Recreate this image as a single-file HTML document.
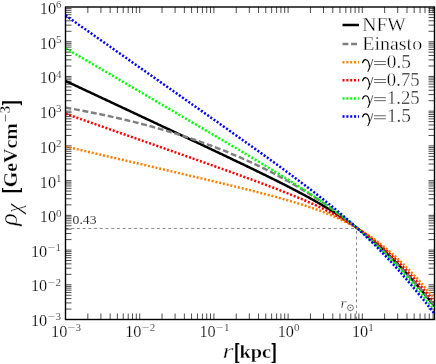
<!DOCTYPE html>
<html><head><meta charset="utf-8"><title>Dark matter density profiles</title>
<style>html,body{margin:0;padding:0;background:#fff;}body{width:436px;height:364px;overflow:hidden;font-family:"Liberation Serif",serif;}svg{display:block;will-change:transform;}</style>
</head><body>
<svg width="436" height="364" viewBox="0 0 436 364">
<rect width="436" height="364" fill="#fff"/>
<defs><clipPath id="c"><rect x="65.50" y="7.00" width="369.00" height="312.50"/></clipPath></defs>
<path d="M87.84,319.50v-6.00M87.84,7.00v6.00M100.90,319.50v-6.00M100.90,7.00v6.00M110.17,319.50v-6.00M110.17,7.00v6.00M117.36,319.50v-6.00M117.36,7.00v6.00M123.24,319.50v-6.00M123.24,7.00v6.00M128.21,319.50v-6.00M128.21,7.00v6.00M132.51,319.50v-6.00M132.51,7.00v6.00M136.30,319.50v-6.00M136.30,7.00v6.00M139.70,319.50v-6.00M139.70,7.00v6.00M162.04,319.50v-6.00M162.04,7.00v6.00M175.10,319.50v-6.00M175.10,7.00v6.00M184.37,319.50v-6.00M184.37,7.00v6.00M191.56,319.50v-6.00M191.56,7.00v6.00M197.44,319.50v-6.00M197.44,7.00v6.00M202.41,319.50v-6.00M202.41,7.00v6.00M206.71,319.50v-6.00M206.71,7.00v6.00M210.50,319.50v-6.00M210.50,7.00v6.00M213.90,319.50v-6.00M213.90,7.00v6.00M236.24,319.50v-6.00M236.24,7.00v6.00M249.30,319.50v-6.00M249.30,7.00v6.00M258.57,319.50v-6.00M258.57,7.00v6.00M265.76,319.50v-6.00M265.76,7.00v6.00M271.64,319.50v-6.00M271.64,7.00v6.00M276.61,319.50v-6.00M276.61,7.00v6.00M280.91,319.50v-6.00M280.91,7.00v6.00M284.70,319.50v-6.00M284.70,7.00v6.00M288.10,319.50v-6.00M288.10,7.00v6.00M310.44,319.50v-6.00M310.44,7.00v6.00M323.50,319.50v-6.00M323.50,7.00v6.00M332.77,319.50v-6.00M332.77,7.00v6.00M339.96,319.50v-6.00M339.96,7.00v6.00M345.84,319.50v-6.00M345.84,7.00v6.00M350.81,319.50v-6.00M350.81,7.00v6.00M355.11,319.50v-6.00M355.11,7.00v6.00M358.90,319.50v-6.00M358.90,7.00v6.00M362.30,319.50v-6.00M362.30,7.00v6.00M384.64,319.50v-6.00M384.64,7.00v6.00M397.70,319.50v-6.00M397.70,7.00v6.00M406.97,319.50v-6.00M406.97,7.00v6.00M414.16,319.50v-6.00M414.16,7.00v6.00M420.04,319.50v-6.00M420.04,7.00v6.00M425.01,319.50v-6.00M425.01,7.00v6.00M429.31,319.50v-6.00M429.31,7.00v6.00M433.10,319.50v-6.00M433.10,7.00v6.00M65.50,309.05h6.00M434.50,309.05h-6.00M65.50,302.93h6.00M434.50,302.93h-6.00M65.50,298.60h6.00M434.50,298.60h-6.00M65.50,295.23h6.00M434.50,295.23h-6.00M65.50,292.48h6.00M434.50,292.48h-6.00M65.50,290.16h6.00M434.50,290.16h-6.00M65.50,288.14h6.00M434.50,288.14h-6.00M65.50,286.37h6.00M434.50,286.37h-6.00M65.50,284.78h6.00M434.50,284.78h-6.00M65.50,274.33h6.00M434.50,274.33h-6.00M65.50,268.21h6.00M434.50,268.21h-6.00M65.50,263.87h6.00M434.50,263.87h-6.00M65.50,260.51h6.00M434.50,260.51h-6.00M65.50,257.76h6.00M434.50,257.76h-6.00M65.50,255.43h6.00M434.50,255.43h-6.00M65.50,253.42h6.00M434.50,253.42h-6.00M65.50,251.64h6.00M434.50,251.64h-6.00M65.50,250.06h6.00M434.50,250.06h-6.00M65.50,239.60h6.00M434.50,239.60h-6.00M65.50,233.49h6.00M434.50,233.49h-6.00M65.50,229.15h6.00M434.50,229.15h-6.00M65.50,225.79h6.00M434.50,225.79h-6.00M65.50,223.04h6.00M434.50,223.04h-6.00M65.50,220.71h6.00M434.50,220.71h-6.00M65.50,218.70h6.00M434.50,218.70h-6.00M65.50,216.92h6.00M434.50,216.92h-6.00M65.50,215.33h6.00M434.50,215.33h-6.00M65.50,204.88h6.00M434.50,204.88h-6.00M65.50,198.77h6.00M434.50,198.77h-6.00M65.50,194.43h6.00M434.50,194.43h-6.00M65.50,191.06h6.00M434.50,191.06h-6.00M65.50,188.31h6.00M434.50,188.31h-6.00M65.50,185.99h6.00M434.50,185.99h-6.00M65.50,183.98h6.00M434.50,183.98h-6.00M65.50,182.20h6.00M434.50,182.20h-6.00M65.50,180.61h6.00M434.50,180.61h-6.00M65.50,170.16h6.00M434.50,170.16h-6.00M65.50,164.04h6.00M434.50,164.04h-6.00M65.50,159.71h6.00M434.50,159.71h-6.00M65.50,156.34h6.00M434.50,156.34h-6.00M65.50,153.59h6.00M434.50,153.59h-6.00M65.50,151.27h6.00M434.50,151.27h-6.00M65.50,149.25h6.00M434.50,149.25h-6.00M65.50,147.48h6.00M434.50,147.48h-6.00M65.50,145.89h6.00M434.50,145.89h-6.00M65.50,135.44h6.00M434.50,135.44h-6.00M65.50,129.32h6.00M434.50,129.32h-6.00M65.50,124.98h6.00M434.50,124.98h-6.00M65.50,121.62h6.00M434.50,121.62h-6.00M65.50,118.87h6.00M434.50,118.87h-6.00M65.50,116.55h6.00M434.50,116.55h-6.00M65.50,114.53h6.00M434.50,114.53h-6.00M65.50,112.76h6.00M434.50,112.76h-6.00M65.50,111.17h6.00M434.50,111.17h-6.00M65.50,100.71h6.00M434.50,100.71h-6.00M65.50,94.60h6.00M434.50,94.60h-6.00M65.50,90.26h6.00M434.50,90.26h-6.00M65.50,86.90h6.00M434.50,86.90h-6.00M65.50,84.15h6.00M434.50,84.15h-6.00M65.50,81.82h6.00M434.50,81.82h-6.00M65.50,79.81h6.00M434.50,79.81h-6.00M65.50,78.03h6.00M434.50,78.03h-6.00M65.50,76.44h6.00M434.50,76.44h-6.00M65.50,65.99h6.00M434.50,65.99h-6.00M65.50,59.88h6.00M434.50,59.88h-6.00M65.50,55.54h6.00M434.50,55.54h-6.00M65.50,52.17h6.00M434.50,52.17h-6.00M65.50,49.43h6.00M434.50,49.43h-6.00M65.50,47.10h6.00M434.50,47.10h-6.00M65.50,45.09h6.00M434.50,45.09h-6.00M65.50,43.31h6.00M434.50,43.31h-6.00M65.50,41.72h6.00M434.50,41.72h-6.00M65.50,31.27h6.00M434.50,31.27h-6.00M65.50,25.16h6.00M434.50,25.16h-6.00M65.50,20.82h6.00M434.50,20.82h-6.00M65.50,17.45h6.00M434.50,17.45h-6.00M65.50,14.70h6.00M434.50,14.70h-6.00M65.50,12.38h6.00M434.50,12.38h-6.00M65.50,10.36h6.00M434.50,10.36h-6.00M65.50,8.59h6.00M434.50,8.59h-6.00" stroke="#000" stroke-width="0.7" fill="none"/>
<path d="M65.50,228.50H356.50" stroke="#000" stroke-width="0.45" stroke-dasharray="3 2.71" fill="none"/>
<path d="M356.50,319.50V228.50" stroke="#000" stroke-width="0.45" stroke-dasharray="3 2.71" fill="none"/>
<g clip-path="url(#c)" fill="none">
<path d="M65.50,80.94 L66.73,81.52 L67.97,82.10 L69.20,82.67 L70.44,83.25 L71.67,83.83 L72.90,84.41 L74.14,84.98 L75.37,85.56 L76.61,86.14 L77.84,86.72 L79.08,87.30 L80.31,87.87 L81.54,88.45 L82.78,89.03 L84.01,89.61 L85.25,90.18 L86.48,90.76 L87.71,91.34 L88.95,91.92 L90.18,92.49 L91.42,93.07 L92.65,93.65 L93.88,94.23 L95.12,94.80 L96.35,95.38 L97.59,95.96 L98.82,96.54 L100.06,97.12 L101.29,97.69 L102.52,98.27 L103.76,98.85 L104.99,99.43 L106.23,100.00 L107.46,100.58 L108.69,101.16 L109.93,101.74 L111.16,102.31 L112.40,102.89 L113.63,103.47 L114.86,104.05 L116.10,104.63 L117.33,105.20 L118.57,105.78 L119.80,106.36 L121.04,106.94 L122.27,107.51 L123.50,108.09 L124.74,108.67 L125.97,109.25 L127.21,109.83 L128.44,110.40 L129.67,110.98 L130.91,111.56 L132.14,112.14 L133.38,112.72 L134.61,113.29 L135.84,113.87 L137.08,114.45 L138.31,115.03 L139.55,115.61 L140.78,116.18 L142.02,116.76 L143.25,117.34 L144.48,117.92 L145.72,118.50 L146.95,119.07 L148.19,119.65 L149.42,120.23 L150.65,120.81 L151.89,121.39 L153.12,121.97 L154.36,122.54 L155.59,123.12 L156.82,123.70 L158.06,124.28 L159.29,124.86 L160.53,125.44 L161.76,126.02 L162.99,126.59 L164.23,127.17 L165.46,127.75 L166.70,128.33 L167.93,128.91 L169.17,129.49 L170.40,130.07 L171.63,130.65 L172.87,131.23 L174.10,131.80 L175.34,132.38 L176.57,132.96 L177.80,133.54 L179.04,134.12 L180.27,134.70 L181.51,135.28 L182.74,135.86 L183.97,136.44 L185.21,137.02 L186.44,137.60 L187.68,138.18 L188.91,138.76 L190.15,139.34 L191.38,139.92 L192.61,140.50 L193.85,141.08 L195.08,141.66 L196.32,142.24 L197.55,142.82 L198.78,143.41 L200.02,143.99 L201.25,144.57 L202.49,145.15 L203.72,145.73 L204.95,146.31 L206.19,146.89 L207.42,147.48 L208.66,148.06 L209.89,148.64 L211.13,149.22 L212.36,149.81 L213.59,150.39 L214.83,150.97 L216.06,151.56 L217.30,152.14 L218.53,152.73 L219.76,153.31 L221.00,153.89 L222.23,154.48 L223.47,155.06 L224.70,155.65 L225.93,156.23 L227.17,156.82 L228.40,157.41 L229.64,157.99 L230.87,158.58 L232.11,159.17 L233.34,159.76 L234.57,160.34 L235.81,160.93 L237.04,161.52 L238.28,162.11 L239.51,162.70 L240.74,163.29 L241.98,163.88 L243.21,164.47 L244.45,165.07 L245.68,165.66 L246.91,166.25 L248.15,166.85 L249.38,167.44 L250.62,168.03 L251.85,168.63 L253.09,169.23 L254.32,169.82 L255.55,170.42 L256.79,171.02 L258.02,171.62 L259.26,172.22 L260.49,172.82 L261.72,173.42 L262.96,174.03 L264.19,174.63 L265.43,175.23 L266.66,175.84 L267.89,176.45 L269.13,177.05 L270.36,177.66 L271.60,178.27 L272.83,178.89 L274.07,179.50 L275.30,180.11 L276.53,180.73 L277.77,181.35 L279.00,181.97 L280.24,182.59 L281.47,183.21 L282.70,183.83 L283.94,184.46 L285.17,185.08 L286.41,185.71 L287.64,186.34 L288.87,186.98 L290.11,187.61 L291.34,188.25 L292.58,188.89 L293.81,189.53 L295.05,190.17 L296.28,190.82 L297.51,191.47 L298.75,192.12 L299.98,192.77 L301.22,193.43 L302.45,194.09 L303.68,194.75 L304.92,195.42 L306.15,196.09 L307.39,196.76 L308.62,197.43 L309.85,198.11 L311.09,198.80 L312.32,199.48 L313.56,200.17 L314.79,200.87 L316.03,201.56 L317.26,202.27 L318.49,202.97 L319.73,203.68 L320.96,204.40 L322.20,205.12 L323.43,205.85 L324.66,206.58 L325.90,207.31 L327.13,208.05 L328.37,208.80 L329.60,209.55 L330.83,210.31 L332.07,211.07 L333.30,211.84 L334.54,212.62 L335.77,213.40 L337.01,214.19 L338.24,214.98 L339.47,215.79 L340.71,216.60 L341.94,217.41 L343.18,218.24 L344.41,219.07 L345.64,219.91 L346.88,220.75 L348.11,221.61 L349.35,222.47 L350.58,223.34 L351.81,224.22 L353.05,225.11 L354.28,226.01 L355.52,226.91 L356.75,227.83 L357.98,228.75 L359.22,229.69 L360.45,230.63 L361.69,231.58 L362.92,232.54 L364.16,233.52 L365.39,234.50 L366.62,235.49 L367.86,236.49 L369.09,237.51 L370.33,238.53 L371.56,239.56 L372.79,240.61 L374.03,241.67 L375.26,242.73 L376.50,243.81 L377.73,244.90 L378.96,246.00 L380.20,247.10 L381.43,248.23 L382.67,249.36 L383.90,250.50 L385.14,251.65 L386.37,252.82 L387.60,254.00 L388.84,255.18 L390.07,256.38 L391.31,257.59 L392.54,258.81 L393.77,260.04 L395.01,261.28 L396.24,262.54 L397.48,263.80 L398.71,265.07 L399.94,266.36 L401.18,267.65 L402.41,268.96 L403.65,270.27 L404.88,271.60 L406.12,272.93 L407.35,274.28 L408.58,275.63 L409.82,277.00 L411.05,278.37 L412.29,279.76 L413.52,281.15 L414.75,282.55 L415.99,283.97 L417.22,285.39 L418.46,286.81 L419.69,288.25 L420.92,289.70 L422.16,291.15 L423.39,292.61 L424.63,294.08 L425.86,295.56 L427.10,297.04 L428.33,298.54 L429.56,300.04 L430.80,301.54 L432.03,303.06 L433.27,304.58 L434.50,306.10" stroke="#000000" stroke-width="2.50"/>
<path d="M65.50,107.62 L66.73,107.83 L67.97,108.05 L69.20,108.26 L70.44,108.48 L71.67,108.71 L72.90,108.93 L74.14,109.15 L75.37,109.38 L76.61,109.60 L77.84,109.83 L79.08,110.06 L80.31,110.29 L81.54,110.52 L82.78,110.76 L84.01,110.99 L85.25,111.23 L86.48,111.47 L87.71,111.71 L88.95,111.95 L90.18,112.20 L91.42,112.44 L92.65,112.69 L93.88,112.94 L95.12,113.19 L96.35,113.44 L97.59,113.69 L98.82,113.95 L100.06,114.20 L101.29,114.46 L102.52,114.72 L103.76,114.98 L104.99,115.25 L106.23,115.51 L107.46,115.78 L108.69,116.05 L109.93,116.32 L111.16,116.59 L112.40,116.86 L113.63,117.14 L114.86,117.42 L116.10,117.69 L117.33,117.98 L118.57,118.26 L119.80,118.54 L121.04,118.83 L122.27,119.12 L123.50,119.41 L124.74,119.70 L125.97,120.00 L127.21,120.29 L128.44,120.59 L129.67,120.89 L130.91,121.19 L132.14,121.49 L133.38,121.80 L134.61,122.11 L135.84,122.42 L137.08,122.73 L138.31,123.04 L139.55,123.36 L140.78,123.68 L142.02,124.00 L143.25,124.32 L144.48,124.64 L145.72,124.97 L146.95,125.30 L148.19,125.63 L149.42,125.96 L150.65,126.30 L151.89,126.64 L153.12,126.98 L154.36,127.32 L155.59,127.66 L156.82,128.01 L158.06,128.36 L159.29,128.71 L160.53,129.06 L161.76,129.41 L162.99,129.77 L164.23,130.13 L165.46,130.49 L166.70,130.86 L167.93,131.23 L169.17,131.59 L170.40,131.97 L171.63,132.34 L172.87,132.72 L174.10,133.10 L175.34,133.48 L176.57,133.86 L177.80,134.25 L179.04,134.64 L180.27,135.03 L181.51,135.42 L182.74,135.82 L183.97,136.22 L185.21,136.62 L186.44,137.03 L187.68,137.43 L188.91,137.84 L190.15,138.26 L191.38,138.67 L192.61,139.09 L193.85,139.51 L195.08,139.93 L196.32,140.36 L197.55,140.79 L198.78,141.22 L200.02,141.66 L201.25,142.09 L202.49,142.53 L203.72,142.98 L204.95,143.42 L206.19,143.87 L207.42,144.33 L208.66,144.78 L209.89,145.24 L211.13,145.70 L212.36,146.16 L213.59,146.63 L214.83,147.10 L216.06,147.57 L217.30,148.05 L218.53,148.53 L219.76,149.01 L221.00,149.50 L222.23,149.99 L223.47,150.48 L224.70,150.97 L225.93,151.47 L227.17,151.97 L228.40,152.48 L229.64,152.99 L230.87,153.50 L232.11,154.01 L233.34,154.53 L234.57,155.05 L235.81,155.58 L237.04,156.11 L238.28,156.64 L239.51,157.17 L240.74,157.71 L241.98,158.25 L243.21,158.80 L244.45,159.35 L245.68,159.90 L246.91,160.46 L248.15,161.02 L249.38,161.58 L250.62,162.15 L251.85,162.72 L253.09,163.30 L254.32,163.88 L255.55,164.46 L256.79,165.05 L258.02,165.64 L259.26,166.23 L260.49,166.83 L261.72,167.43 L262.96,168.04 L264.19,168.65 L265.43,169.26 L266.66,169.88 L267.89,170.50 L269.13,171.13 L270.36,171.76 L271.60,172.39 L272.83,173.03 L274.07,173.67 L275.30,174.32 L276.53,174.97 L277.77,175.62 L279.00,176.28 L280.24,176.95 L281.47,177.61 L282.70,178.29 L283.94,178.96 L285.17,179.65 L286.41,180.33 L287.64,181.02 L288.87,181.72 L290.11,182.42 L291.34,183.12 L292.58,183.83 L293.81,184.54 L295.05,185.26 L296.28,185.98 L297.51,186.71 L298.75,187.44 L299.98,188.18 L301.22,188.92 L302.45,189.66 L303.68,190.41 L304.92,191.17 L306.15,191.93 L307.39,192.70 L308.62,193.47 L309.85,194.24 L311.09,195.03 L312.32,195.81 L313.56,196.60 L314.79,197.40 L316.03,198.20 L317.26,199.01 L318.49,199.82 L319.73,200.64 L320.96,201.46 L322.20,202.29 L323.43,203.12 L324.66,203.96 L325.90,204.81 L327.13,205.66 L328.37,206.51 L329.60,207.37 L330.83,208.24 L332.07,209.11 L333.30,209.99 L334.54,210.87 L335.77,211.76 L337.01,212.66 L338.24,213.56 L339.47,214.47 L340.71,215.38 L341.94,216.30 L343.18,217.22 L344.41,218.16 L345.64,219.09 L346.88,220.04 L348.11,220.99 L349.35,221.94 L350.58,222.90 L351.81,223.87 L353.05,224.85 L354.28,225.83 L355.52,226.81 L356.75,227.81 L357.98,228.81 L359.22,229.81 L360.45,230.83 L361.69,231.85 L362.92,232.87 L364.16,233.91 L365.39,234.95 L366.62,236.00 L367.86,237.05 L369.09,238.11 L370.33,239.18 L371.56,240.25 L372.79,241.33 L374.03,242.42 L375.26,243.52 L376.50,244.62 L377.73,245.73 L378.96,246.85 L380.20,247.97 L381.43,249.10 L382.67,250.24 L383.90,251.39 L385.14,252.54 L386.37,253.71 L387.60,254.88 L388.84,256.05 L390.07,257.24 L391.31,258.43 L392.54,259.63 L393.77,260.84 L395.01,262.05 L396.24,263.28 L397.48,264.51 L398.71,265.75 L399.94,267.00 L401.18,268.26 L402.41,269.52 L403.65,270.79 L404.88,272.07 L406.12,273.36 L407.35,274.66 L408.58,275.97 L409.82,277.28 L411.05,278.61 L412.29,279.94 L413.52,281.28 L414.75,282.63 L415.99,283.99 L417.22,285.35 L418.46,286.73 L419.69,288.11 L420.92,289.51 L422.16,290.91 L423.39,292.32 L424.63,293.75 L425.86,295.18 L427.10,296.62 L428.33,298.07 L429.56,299.53 L430.80,300.99 L432.03,302.47 L433.27,303.96 L434.50,305.46" stroke="#808080" stroke-width="2.45" stroke-dasharray="5.9 2.7"/>
<path d="M65.50,146.49 L66.73,146.78 L67.97,147.07 L69.20,147.36 L70.44,147.65 L71.67,147.94 L72.90,148.22 L74.14,148.51 L75.37,148.80 L76.61,149.09 L77.84,149.38 L79.08,149.67 L80.31,149.96 L81.54,150.25 L82.78,150.53 L84.01,150.82 L85.25,151.11 L86.48,151.40 L87.71,151.69 L88.95,151.98 L90.18,152.27 L91.42,152.56 L92.65,152.85 L93.88,153.13 L95.12,153.42 L96.35,153.71 L97.59,154.00 L98.82,154.29 L100.06,154.58 L101.29,154.87 L102.52,155.16 L103.76,155.45 L104.99,155.74 L106.23,156.02 L107.46,156.31 L108.69,156.60 L109.93,156.89 L111.16,157.18 L112.40,157.47 L113.63,157.76 L114.86,158.05 L116.10,158.34 L117.33,158.63 L118.57,158.92 L119.80,159.20 L121.04,159.49 L122.27,159.78 L123.50,160.07 L124.74,160.36 L125.97,160.65 L127.21,160.94 L128.44,161.23 L129.67,161.52 L130.91,161.81 L132.14,162.10 L133.38,162.39 L134.61,162.68 L135.84,162.96 L137.08,163.25 L138.31,163.54 L139.55,163.83 L140.78,164.12 L142.02,164.41 L143.25,164.70 L144.48,164.99 L145.72,165.28 L146.95,165.57 L148.19,165.86 L149.42,166.15 L150.65,166.44 L151.89,166.73 L153.12,167.02 L154.36,167.31 L155.59,167.60 L156.82,167.89 L158.06,168.18 L159.29,168.47 L160.53,168.76 L161.76,169.05 L162.99,169.34 L164.23,169.63 L165.46,169.92 L166.70,170.21 L167.93,170.50 L169.17,170.79 L170.40,171.08 L171.63,171.37 L172.87,171.66 L174.10,171.95 L175.34,172.25 L176.57,172.54 L177.80,172.83 L179.04,173.12 L180.27,173.41 L181.51,173.70 L182.74,173.99 L183.97,174.28 L185.21,174.58 L186.44,174.87 L187.68,175.16 L188.91,175.45 L190.15,175.74 L191.38,176.04 L192.61,176.33 L193.85,176.62 L195.08,176.91 L196.32,177.21 L197.55,177.50 L198.78,177.79 L200.02,178.09 L201.25,178.38 L202.49,178.67 L203.72,178.97 L204.95,179.26 L206.19,179.56 L207.42,179.85 L208.66,180.14 L209.89,180.44 L211.13,180.73 L212.36,181.03 L213.59,181.33 L214.83,181.62 L216.06,181.92 L217.30,182.21 L218.53,182.51 L219.76,182.81 L221.00,183.11 L222.23,183.40 L223.47,183.70 L224.70,184.00 L225.93,184.30 L227.17,184.60 L228.40,184.90 L229.64,185.20 L230.87,185.50 L232.11,185.80 L233.34,186.10 L234.57,186.40 L235.81,186.71 L237.04,187.01 L238.28,187.31 L239.51,187.62 L240.74,187.92 L241.98,188.23 L243.21,188.53 L244.45,188.84 L245.68,189.15 L246.91,189.46 L248.15,189.77 L249.38,190.08 L250.62,190.39 L251.85,190.70 L253.09,191.01 L254.32,191.32 L255.55,191.64 L256.79,191.95 L258.02,192.27 L259.26,192.59 L260.49,192.90 L261.72,193.22 L262.96,193.54 L264.19,193.87 L265.43,194.19 L266.66,194.51 L267.89,194.84 L269.13,195.17 L270.36,195.49 L271.60,195.82 L272.83,196.16 L274.07,196.49 L275.30,196.82 L276.53,197.16 L277.77,197.50 L279.00,197.84 L280.24,198.18 L281.47,198.53 L282.70,198.87 L283.94,199.22 L285.17,199.57 L286.41,199.92 L287.64,200.28 L288.87,200.64 L290.11,201.00 L291.34,201.36 L292.58,201.73 L293.81,202.09 L295.05,202.47 L296.28,202.84 L297.51,203.22 L298.75,203.60 L299.98,203.98 L301.22,204.37 L302.45,204.76 L303.68,205.16 L304.92,205.56 L306.15,205.96 L307.39,206.37 L308.62,206.78 L309.85,207.19 L311.09,207.61 L312.32,208.04 L313.56,208.47 L314.79,208.90 L316.03,209.34 L317.26,209.79 L318.49,210.24 L319.73,210.69 L320.96,211.16 L322.20,211.62 L323.43,212.10 L324.66,212.58 L325.90,213.06 L327.13,213.56 L328.37,214.06 L329.60,214.56 L330.83,215.08 L332.07,215.60 L333.30,216.13 L334.54,216.66 L335.77,217.21 L337.01,217.76 L338.24,218.32 L339.47,218.89 L340.71,219.47 L341.94,220.06 L343.18,220.65 L344.41,221.26 L345.64,221.87 L346.88,222.50 L348.11,223.14 L349.35,223.78 L350.58,224.44 L351.81,225.10 L353.05,225.78 L354.28,226.47 L355.52,227.17 L356.75,227.88 L357.98,228.60 L359.22,229.33 L360.45,230.08 L361.69,230.84 L362.92,231.61 L364.16,232.39 L365.39,233.19 L366.62,233.99 L367.86,234.81 L369.09,235.65 L370.33,236.49 L371.56,237.35 L372.79,238.23 L374.03,239.11 L375.26,240.01 L376.50,240.92 L377.73,241.85 L378.96,242.79 L380.20,243.75 L381.43,244.71 L382.67,245.70 L383.90,246.69 L385.14,247.70 L386.37,248.72 L387.60,249.76 L388.84,250.81 L390.07,251.88 L391.31,252.95 L392.54,254.05 L393.77,255.15 L395.01,256.27 L396.24,257.40 L397.48,258.55 L398.71,259.71 L399.94,260.88 L401.18,262.07 L402.41,263.26 L403.65,264.48 L404.88,265.70 L406.12,266.94 L407.35,268.19 L408.58,269.45 L409.82,270.72 L411.05,272.00 L412.29,273.30 L413.52,274.61 L414.75,275.93 L415.99,277.26 L417.22,278.60 L418.46,279.96 L419.69,281.32 L420.92,282.69 L422.16,284.08 L423.39,285.47 L424.63,286.87 L425.86,288.29 L427.10,289.71 L428.33,291.14 L429.56,292.58 L430.80,294.03 L432.03,295.49 L433.27,296.96 L434.50,298.43" stroke="#ff8000" stroke-width="2.50" stroke-dasharray="2.05 1.80"/>
<path d="M65.50,113.72 L66.73,114.15 L67.97,114.58 L69.20,115.02 L70.44,115.45 L71.67,115.88 L72.90,116.32 L74.14,116.75 L75.37,117.18 L76.61,117.62 L77.84,118.05 L79.08,118.48 L80.31,118.91 L81.54,119.35 L82.78,119.78 L84.01,120.21 L85.25,120.65 L86.48,121.08 L87.71,121.51 L88.95,121.95 L90.18,122.38 L91.42,122.81 L92.65,123.25 L93.88,123.68 L95.12,124.11 L96.35,124.55 L97.59,124.98 L98.82,125.41 L100.06,125.85 L101.29,126.28 L102.52,126.71 L103.76,127.15 L104.99,127.58 L106.23,128.01 L107.46,128.45 L108.69,128.88 L109.93,129.31 L111.16,129.75 L112.40,130.18 L113.63,130.61 L114.86,131.05 L116.10,131.48 L117.33,131.91 L118.57,132.35 L119.80,132.78 L121.04,133.22 L122.27,133.65 L123.50,134.08 L124.74,134.52 L125.97,134.95 L127.21,135.38 L128.44,135.82 L129.67,136.25 L130.91,136.68 L132.14,137.12 L133.38,137.55 L134.61,137.98 L135.84,138.42 L137.08,138.85 L138.31,139.29 L139.55,139.72 L140.78,140.15 L142.02,140.59 L143.25,141.02 L144.48,141.45 L145.72,141.89 L146.95,142.32 L148.19,142.76 L149.42,143.19 L150.65,143.62 L151.89,144.06 L153.12,144.49 L154.36,144.93 L155.59,145.36 L156.82,145.80 L158.06,146.23 L159.29,146.66 L160.53,147.10 L161.76,147.53 L162.99,147.97 L164.23,148.40 L165.46,148.84 L166.70,149.27 L167.93,149.71 L169.17,150.14 L170.40,150.57 L171.63,151.01 L172.87,151.44 L174.10,151.88 L175.34,152.31 L176.57,152.75 L177.80,153.19 L179.04,153.62 L180.27,154.06 L181.51,154.49 L182.74,154.93 L183.97,155.36 L185.21,155.80 L186.44,156.23 L187.68,156.67 L188.91,157.11 L190.15,157.54 L191.38,157.98 L192.61,158.41 L193.85,158.85 L195.08,159.29 L196.32,159.72 L197.55,160.16 L198.78,160.60 L200.02,161.04 L201.25,161.47 L202.49,161.91 L203.72,162.35 L204.95,162.79 L206.19,163.23 L207.42,163.66 L208.66,164.10 L209.89,164.54 L211.13,164.98 L212.36,165.42 L213.59,165.86 L214.83,166.30 L216.06,166.74 L217.30,167.18 L218.53,167.62 L219.76,168.06 L221.00,168.50 L222.23,168.94 L223.47,169.38 L224.70,169.83 L225.93,170.27 L227.17,170.71 L228.40,171.15 L229.64,171.60 L230.87,172.04 L232.11,172.48 L233.34,172.93 L234.57,173.37 L235.81,173.82 L237.04,174.27 L238.28,174.71 L239.51,175.16 L240.74,175.61 L241.98,176.06 L243.21,176.50 L244.45,176.95 L245.68,177.40 L246.91,177.85 L248.15,178.31 L249.38,178.76 L250.62,179.21 L251.85,179.66 L253.09,180.12 L254.32,180.57 L255.55,181.03 L256.79,181.49 L258.02,181.94 L259.26,182.40 L260.49,182.86 L261.72,183.32 L262.96,183.78 L264.19,184.25 L265.43,184.71 L266.66,185.18 L267.89,185.64 L269.13,186.11 L270.36,186.58 L271.60,187.05 L272.83,187.52 L274.07,187.99 L275.30,188.47 L276.53,188.94 L277.77,189.42 L279.00,189.90 L280.24,190.38 L281.47,190.87 L282.70,191.35 L283.94,191.84 L285.17,192.33 L286.41,192.82 L287.64,193.31 L288.87,193.81 L290.11,194.30 L291.34,194.80 L292.58,195.31 L293.81,195.81 L295.05,196.32 L296.28,196.83 L297.51,197.34 L298.75,197.86 L299.98,198.38 L301.22,198.90 L302.45,199.43 L303.68,199.95 L304.92,200.49 L306.15,201.02 L307.39,201.56 L308.62,202.11 L309.85,202.65 L311.09,203.20 L312.32,203.76 L313.56,204.32 L314.79,204.88 L316.03,205.45 L317.26,206.03 L318.49,206.61 L319.73,207.19 L320.96,207.78 L322.20,208.37 L323.43,208.97 L324.66,209.58 L325.90,210.19 L327.13,210.80 L328.37,211.43 L329.60,212.06 L330.83,212.69 L332.07,213.33 L333.30,213.98 L334.54,214.64 L335.77,215.30 L337.01,215.97 L338.24,216.65 L339.47,217.34 L340.71,218.03 L341.94,218.73 L343.18,219.44 L344.41,220.16 L345.64,220.89 L346.88,221.63 L348.11,222.37 L349.35,223.13 L350.58,223.89 L351.81,224.66 L353.05,225.44 L354.28,226.24 L355.52,227.04 L356.75,227.85 L357.98,228.68 L359.22,229.51 L360.45,230.35 L361.69,231.21 L362.92,232.08 L364.16,232.95 L365.39,233.84 L366.62,234.74 L367.86,235.65 L369.09,236.58 L370.33,237.51 L371.56,238.46 L372.79,239.42 L374.03,240.39 L375.26,241.37 L376.50,242.37 L377.73,243.37 L378.96,244.39 L380.20,245.43 L381.43,246.47 L382.67,247.53 L383.90,248.60 L385.14,249.68 L386.37,250.77 L387.60,251.88 L388.84,253.00 L390.07,254.13 L391.31,255.27 L392.54,256.43 L393.77,257.60 L395.01,258.78 L396.24,259.97 L397.48,261.17 L398.71,262.39 L399.94,263.62 L401.18,264.86 L402.41,266.11 L403.65,267.37 L404.88,268.65 L406.12,269.93 L407.35,271.23 L408.58,272.54 L409.82,273.86 L411.05,275.19 L412.29,276.53 L413.52,277.88 L414.75,279.24 L415.99,280.61 L417.22,281.99 L418.46,283.38 L419.69,284.78 L420.92,286.19 L422.16,287.61 L423.39,289.04 L424.63,290.48 L425.86,291.92 L427.10,293.38 L428.33,294.84 L429.56,296.31 L430.80,297.79 L432.03,299.27 L433.27,300.77 L434.50,302.27" stroke="#ff0000" stroke-width="2.50" stroke-dasharray="2.05 1.80"/>
<path d="M65.50,48.17 L66.73,48.89 L67.97,49.61 L69.20,50.33 L70.44,51.06 L71.67,51.78 L72.90,52.50 L74.14,53.22 L75.37,53.94 L76.61,54.66 L77.84,55.39 L79.08,56.11 L80.31,56.83 L81.54,57.55 L82.78,58.27 L84.01,59.00 L85.25,59.72 L86.48,60.44 L87.71,61.16 L88.95,61.88 L90.18,62.61 L91.42,63.33 L92.65,64.05 L93.88,64.77 L95.12,65.49 L96.35,66.22 L97.59,66.94 L98.82,67.66 L100.06,68.38 L101.29,69.10 L102.52,69.83 L103.76,70.55 L104.99,71.27 L106.23,71.99 L107.46,72.72 L108.69,73.44 L109.93,74.16 L111.16,74.88 L112.40,75.60 L113.63,76.33 L114.86,77.05 L116.10,77.77 L117.33,78.49 L118.57,79.21 L119.80,79.94 L121.04,80.66 L122.27,81.38 L123.50,82.10 L124.74,82.82 L125.97,83.55 L127.21,84.27 L128.44,84.99 L129.67,85.71 L130.91,86.44 L132.14,87.16 L133.38,87.88 L134.61,88.60 L135.84,89.33 L137.08,90.05 L138.31,90.77 L139.55,91.49 L140.78,92.21 L142.02,92.94 L143.25,93.66 L144.48,94.38 L145.72,95.10 L146.95,95.83 L148.19,96.55 L149.42,97.27 L150.65,97.99 L151.89,98.72 L153.12,99.44 L154.36,100.16 L155.59,100.89 L156.82,101.61 L158.06,102.33 L159.29,103.05 L160.53,103.78 L161.76,104.50 L162.99,105.22 L164.23,105.95 L165.46,106.67 L166.70,107.39 L167.93,108.11 L169.17,108.84 L170.40,109.56 L171.63,110.28 L172.87,111.01 L174.10,111.73 L175.34,112.45 L176.57,113.18 L177.80,113.90 L179.04,114.62 L180.27,115.35 L181.51,116.07 L182.74,116.80 L183.97,117.52 L185.21,118.24 L186.44,118.97 L187.68,119.69 L188.91,120.42 L190.15,121.14 L191.38,121.86 L192.61,122.59 L193.85,123.31 L195.08,124.04 L196.32,124.76 L197.55,125.49 L198.78,126.21 L200.02,126.94 L201.25,127.66 L202.49,128.39 L203.72,129.11 L204.95,129.84 L206.19,130.56 L207.42,131.29 L208.66,132.02 L209.89,132.74 L211.13,133.47 L212.36,134.20 L213.59,134.92 L214.83,135.65 L216.06,136.38 L217.30,137.10 L218.53,137.83 L219.76,138.56 L221.00,139.29 L222.23,140.02 L223.47,140.74 L224.70,141.47 L225.93,142.20 L227.17,142.93 L228.40,143.66 L229.64,144.39 L230.87,145.12 L232.11,145.85 L233.34,146.58 L234.57,147.31 L235.81,148.05 L237.04,148.78 L238.28,149.51 L239.51,150.24 L240.74,150.98 L241.98,151.71 L243.21,152.44 L244.45,153.18 L245.68,153.91 L246.91,154.65 L248.15,155.38 L249.38,156.12 L250.62,156.86 L251.85,157.60 L253.09,158.33 L254.32,159.07 L255.55,159.81 L256.79,160.55 L258.02,161.29 L259.26,162.04 L260.49,162.78 L261.72,163.52 L262.96,164.27 L264.19,165.01 L265.43,165.76 L266.66,166.50 L267.89,167.25 L269.13,168.00 L270.36,168.75 L271.60,169.50 L272.83,170.25 L274.07,171.00 L275.30,171.76 L276.53,172.51 L277.77,173.27 L279.00,174.03 L280.24,174.79 L281.47,175.55 L282.70,176.31 L283.94,177.07 L285.17,177.84 L286.41,178.61 L287.64,179.38 L288.87,180.15 L290.11,180.92 L291.34,181.69 L292.58,182.47 L293.81,183.25 L295.05,184.02 L296.28,184.81 L297.51,185.59 L298.75,186.38 L299.98,187.17 L301.22,187.96 L302.45,188.75 L303.68,189.55 L304.92,190.35 L306.15,191.15 L307.39,191.95 L308.62,192.76 L309.85,193.57 L311.09,194.39 L312.32,195.20 L313.56,196.02 L314.79,196.85 L316.03,197.67 L317.26,198.51 L318.49,199.34 L319.73,200.18 L320.96,201.02 L322.20,201.87 L323.43,202.72 L324.66,203.58 L325.90,204.44 L327.13,205.30 L328.37,206.17 L329.60,207.05 L330.83,207.92 L332.07,208.81 L333.30,209.70 L334.54,210.59 L335.77,211.50 L337.01,212.40 L338.24,213.32 L339.47,214.23 L340.71,215.16 L341.94,216.09 L343.18,217.03 L344.41,217.97 L345.64,218.92 L346.88,219.88 L348.11,220.84 L349.35,221.81 L350.58,222.79 L351.81,223.78 L353.05,224.77 L354.28,225.78 L355.52,226.78 L356.75,227.80 L357.98,228.83 L359.22,229.86 L360.45,230.90 L361.69,231.95 L362.92,233.01 L364.16,234.08 L365.39,235.16 L366.62,236.24 L367.86,237.33 L369.09,238.44 L370.33,239.55 L371.56,240.67 L372.79,241.80 L374.03,242.94 L375.26,244.09 L376.50,245.25 L377.73,246.42 L378.96,247.60 L380.20,248.78 L381.43,249.98 L382.67,251.19 L383.90,252.41 L385.14,253.63 L386.37,254.87 L387.60,256.11 L388.84,257.37 L390.07,258.63 L391.31,259.91 L392.54,261.19 L393.77,262.49 L395.01,263.79 L396.24,265.10 L397.48,266.42 L398.71,267.75 L399.94,269.09 L401.18,270.44 L402.41,271.80 L403.65,273.17 L404.88,274.55 L406.12,275.93 L407.35,277.33 L408.58,278.73 L409.82,280.14 L411.05,281.56 L412.29,282.99 L413.52,284.42 L414.75,285.87 L415.99,287.32 L417.22,288.78 L418.46,290.24 L419.69,291.72 L420.92,293.20 L422.16,294.69 L423.39,296.18 L424.63,297.69 L425.86,299.19 L427.10,300.71 L428.33,302.23 L429.56,303.76 L430.80,305.30 L432.03,306.84 L433.27,308.38 L434.50,309.94" stroke="#00ff00" stroke-width="2.50" stroke-dasharray="2.05 1.80"/>
<path d="M65.50,15.39 L66.73,16.26 L67.97,17.13 L69.20,17.99 L70.44,18.86 L71.67,19.72 L72.90,20.59 L74.14,21.46 L75.37,22.32 L76.61,23.19 L77.84,24.06 L79.08,24.92 L80.31,25.79 L81.54,26.65 L82.78,27.52 L84.01,28.39 L85.25,29.25 L86.48,30.12 L87.71,30.99 L88.95,31.85 L90.18,32.72 L91.42,33.59 L92.65,34.45 L93.88,35.32 L95.12,36.18 L96.35,37.05 L97.59,37.92 L98.82,38.78 L100.06,39.65 L101.29,40.52 L102.52,41.38 L103.76,42.25 L104.99,43.12 L106.23,43.98 L107.46,44.85 L108.69,45.72 L109.93,46.58 L111.16,47.45 L112.40,48.31 L113.63,49.18 L114.86,50.05 L116.10,50.91 L117.33,51.78 L118.57,52.65 L119.80,53.51 L121.04,54.38 L122.27,55.25 L123.50,56.11 L124.74,56.98 L125.97,57.85 L127.21,58.71 L128.44,59.58 L129.67,60.45 L130.91,61.31 L132.14,62.18 L133.38,63.05 L134.61,63.91 L135.84,64.78 L137.08,65.65 L138.31,66.51 L139.55,67.38 L140.78,68.25 L142.02,69.11 L143.25,69.98 L144.48,70.85 L145.72,71.71 L146.95,72.58 L148.19,73.45 L149.42,74.31 L150.65,75.18 L151.89,76.05 L153.12,76.91 L154.36,77.78 L155.59,78.65 L156.82,79.51 L158.06,80.38 L159.29,81.25 L160.53,82.12 L161.76,82.98 L162.99,83.85 L164.23,84.72 L165.46,85.58 L166.70,86.45 L167.93,87.32 L169.17,88.19 L170.40,89.05 L171.63,89.92 L172.87,90.79 L174.10,91.66 L175.34,92.52 L176.57,93.39 L177.80,94.26 L179.04,95.13 L180.27,95.99 L181.51,96.86 L182.74,97.73 L183.97,98.60 L185.21,99.47 L186.44,100.33 L187.68,101.20 L188.91,102.07 L190.15,102.94 L191.38,103.81 L192.61,104.68 L193.85,105.54 L195.08,106.41 L196.32,107.28 L197.55,108.15 L198.78,109.02 L200.02,109.89 L201.25,110.76 L202.49,111.63 L203.72,112.50 L204.95,113.37 L206.19,114.23 L207.42,115.10 L208.66,115.97 L209.89,116.84 L211.13,117.71 L212.36,118.58 L213.59,119.46 L214.83,120.33 L216.06,121.20 L217.30,122.07 L218.53,122.94 L219.76,123.81 L221.00,124.68 L222.23,125.55 L223.47,126.43 L224.70,127.30 L225.93,128.17 L227.17,129.04 L228.40,129.92 L229.64,130.79 L230.87,131.66 L232.11,132.54 L233.34,133.41 L234.57,134.28 L235.81,135.16 L237.04,136.03 L238.28,136.91 L239.51,137.78 L240.74,138.66 L241.98,139.54 L243.21,140.41 L244.45,141.29 L245.68,142.17 L246.91,143.05 L248.15,143.92 L249.38,144.80 L250.62,145.68 L251.85,146.56 L253.09,147.44 L254.32,148.32 L255.55,149.20 L256.79,150.09 L258.02,150.97 L259.26,151.85 L260.49,152.74 L261.72,153.62 L262.96,154.51 L264.19,155.39 L265.43,156.28 L266.66,157.17 L267.89,158.06 L269.13,158.94 L270.36,159.83 L271.60,160.73 L272.83,161.62 L274.07,162.51 L275.30,163.40 L276.53,164.30 L277.77,165.20 L279.00,166.09 L280.24,166.99 L281.47,167.89 L282.70,168.79 L283.94,169.69 L285.17,170.60 L286.41,171.50 L287.64,172.41 L288.87,173.32 L290.11,174.22 L291.34,175.14 L292.58,176.05 L293.81,176.96 L295.05,177.88 L296.28,178.80 L297.51,179.72 L298.75,180.64 L299.98,181.56 L301.22,182.49 L302.45,183.41 L303.68,184.34 L304.92,185.28 L306.15,186.21 L307.39,187.15 L308.62,188.09 L309.85,189.03 L311.09,189.98 L312.32,190.92 L313.56,191.87 L314.79,192.83 L316.03,193.79 L317.26,194.75 L318.49,195.71 L319.73,196.67 L320.96,197.64 L322.20,198.62 L323.43,199.60 L324.66,200.58 L325.90,201.56 L327.13,202.55 L328.37,203.54 L329.60,204.54 L330.83,205.54 L332.07,206.55 L333.30,207.56 L334.54,208.57 L335.77,209.59 L337.01,210.62 L338.24,211.65 L339.47,212.68 L340.71,213.72 L341.94,214.77 L343.18,215.82 L344.41,216.87 L345.64,217.94 L346.88,219.00 L348.11,220.08 L349.35,221.16 L350.58,222.25 L351.81,223.34 L353.05,224.44 L354.28,225.54 L355.52,226.66 L356.75,227.78 L357.98,228.90 L359.22,230.04 L360.45,231.18 L361.69,232.32 L362.92,233.48 L364.16,234.64 L365.39,235.81 L366.62,236.99 L367.86,238.17 L369.09,239.37 L370.33,240.57 L371.56,241.78 L372.79,242.99 L374.03,244.22 L375.26,245.45 L376.50,246.69 L377.73,247.94 L378.96,249.20 L380.20,250.46 L381.43,251.74 L382.67,253.02 L383.90,254.31 L385.14,255.61 L386.37,256.92 L387.60,258.23 L388.84,259.55 L390.07,260.89 L391.31,262.23 L392.54,263.57 L393.77,264.93 L395.01,266.29 L396.24,267.67 L397.48,269.05 L398.71,270.44 L399.94,271.83 L401.18,273.24 L402.41,274.65 L403.65,276.07 L404.88,277.50 L406.12,278.93 L407.35,280.37 L408.58,281.82 L409.82,283.28 L411.05,284.74 L412.29,286.22 L413.52,287.69 L414.75,289.18 L415.99,290.67 L417.22,292.17 L418.46,293.67 L419.69,295.18 L420.92,296.70 L422.16,298.22 L423.39,299.75 L424.63,301.29 L425.86,302.83 L427.10,304.38 L428.33,305.93 L429.56,307.49 L430.80,309.05 L432.03,310.62 L433.27,312.19 L434.50,313.77" stroke="#0000ff" stroke-width="2.50" stroke-dasharray="2.05 1.80"/>
</g>
<rect x="65.50" y="7.00" width="369.00" height="312.50" fill="none" stroke="#000" stroke-width="1.4"/>
<g font-family="'Liberation Serif', serif" fill="#000" stroke="#fff" stroke-width="0.35">
<text x="60.90" y="326.20" text-anchor="end" font-size="16.3" stroke-width="0.22">10<tspan font-size="13.6" dy="-4.9" dx="0.2">−</tspan><tspan font-size="11.0" dx="0.3" dy="-0.9">3</tspan></text>
<text x="60.90" y="291.48" text-anchor="end" font-size="16.3" stroke-width="0.22">10<tspan font-size="13.6" dy="-4.9" dx="0.2">−</tspan><tspan font-size="11.0" dx="0.3" dy="-0.9">2</tspan></text>
<text x="60.90" y="256.76" text-anchor="end" font-size="16.3" stroke-width="0.22">10<tspan font-size="13.6" dy="-4.9" dx="0.2">−</tspan><tspan font-size="11.0" dx="0.3" dy="-0.9">1</tspan></text>
<text x="61.60" y="222.33" text-anchor="end" font-size="16.3" stroke-width="0.22">10<tspan font-size="11.0" dy="-5.8">0</tspan></text>
<text x="61.60" y="187.61" text-anchor="end" font-size="16.3" stroke-width="0.22">10<tspan font-size="11.0" dy="-5.8">1</tspan></text>
<text x="61.60" y="152.89" text-anchor="end" font-size="16.3" stroke-width="0.22">10<tspan font-size="11.0" dy="-5.8">2</tspan></text>
<text x="61.60" y="118.17" text-anchor="end" font-size="16.3" stroke-width="0.22">10<tspan font-size="11.0" dy="-5.8">3</tspan></text>
<text x="61.60" y="83.44" text-anchor="end" font-size="16.3" stroke-width="0.22">10<tspan font-size="11.0" dy="-5.8">4</tspan></text>
<text x="61.60" y="48.72" text-anchor="end" font-size="16.3" stroke-width="0.22">10<tspan font-size="11.0" dy="-5.8">5</tspan></text>
<text x="61.60" y="14.00" text-anchor="end" font-size="16.3" stroke-width="0.22">10<tspan font-size="11.0" dy="-5.8">6</tspan></text>
<text x="66.00" y="337.00" text-anchor="middle" font-size="16.3" stroke-width="0.22">10<tspan font-size="13.6" dy="-4.9" dx="0.2">−</tspan><tspan font-size="11.0" dx="0.3" dy="-0.9">3</tspan></text>
<text x="140.20" y="337.00" text-anchor="middle" font-size="16.3" stroke-width="0.22">10<tspan font-size="13.6" dy="-4.9" dx="0.2">−</tspan><tspan font-size="11.0" dx="0.3" dy="-0.9">2</tspan></text>
<text x="214.40" y="337.00" text-anchor="middle" font-size="16.3" stroke-width="0.22">10<tspan font-size="13.6" dy="-4.9" dx="0.2">−</tspan><tspan font-size="11.0" dx="0.3" dy="-0.9">1</tspan></text>
<text x="288.60" y="337.00" text-anchor="middle" font-size="16.3" stroke-width="0.22">10<tspan font-size="11.0" dy="-5.8">0</tspan></text>
<text x="362.80" y="337.00" text-anchor="middle" font-size="16.3" stroke-width="0.22">10<tspan font-size="11.0" dy="-5.8">1</tspan></text>
<text x="72.58" y="224.10" font-size="13.20" textLength="23.96" lengthAdjust="spacingAndGlyphs" stroke-width="0.15">0.43</text>
<text x="340.57" y="307.80" font-size="14.50" font-style="italic" textLength="6.09" lengthAdjust="spacingAndGlyphs">r</text>
<circle cx="350.5" cy="307.8" r="2.9" fill="none" stroke="#000" stroke-width="0.55"/><circle cx="350.5" cy="307.8" r="0.7" fill="#000"/>
<path d="M342.5,25.0H359.0" stroke="#000" stroke-width="2.50"/>
<path d="M342.5,43.9H359.0" stroke="#808080" stroke-width="2.45" stroke-dasharray="5.9 2.7"/>
<path d="M342.5,62.3H359.0" stroke="#ff8000" stroke-width="2.50" stroke-dasharray="2.05 1.80"/>
<path d="M342.5,80.3H359.0" stroke="#ff0000" stroke-width="2.50" stroke-dasharray="2.05 1.80"/>
<path d="M342.5,98.4H359.0" stroke="#00ff00" stroke-width="2.50" stroke-dasharray="2.05 1.80"/>
<path d="M342.5,116.5H359.0" stroke="#0000ff" stroke-width="2.50" stroke-dasharray="2.05 1.80"/>
<text x="362.23" y="30.55" font-size="19.40" textLength="43.60" lengthAdjust="spacingAndGlyphs">NFW</text>
<text x="362.22" y="49.65" font-size="19.40" textLength="59.94" lengthAdjust="spacingAndGlyphs">Einasto</text>
<g transform="translate(362.10,67.95)" fill="none" stroke="#000" stroke-linecap="round"><path d="M0.5,-5.2C1.0,-7.2 2.3,-8.35 3.9,-8.25C5.8,-8.1 6.9,-5.5 7.4,-1.8" stroke-width="1.15"/><path d="M7.4,-1.8C7.5,0.2 6.6,2.0 5.8,3.6" stroke-width="0.95"/><path d="M10.6,-8.5C10.0,-5.5 8.3,-1.0 6.3,2.6" stroke-width="0.6"/></g>
<path d="M374.10,61.55H385.90M374.10,64.55H385.90" stroke="#000" stroke-width="0.6" fill="none"/>
<text x="386.86" y="67.95" font-size="17.90" textLength="24.19" lengthAdjust="spacingAndGlyphs">0.5</text>
<g transform="translate(362.10,85.95)" fill="none" stroke="#000" stroke-linecap="round"><path d="M0.5,-5.2C1.0,-7.2 2.3,-8.35 3.9,-8.25C5.8,-8.1 6.9,-5.5 7.4,-1.8" stroke-width="1.15"/><path d="M7.4,-1.8C7.5,0.2 6.6,2.0 5.8,3.6" stroke-width="0.95"/><path d="M10.6,-8.5C10.0,-5.5 8.3,-1.0 6.3,2.6" stroke-width="0.6"/></g>
<path d="M374.10,79.55H385.90M374.10,82.55H385.90" stroke="#000" stroke-width="0.6" fill="none"/>
<text x="386.89" y="85.95" font-size="17.90" textLength="32.85" lengthAdjust="spacingAndGlyphs">0.75</text>
<g transform="translate(362.10,104.05)" fill="none" stroke="#000" stroke-linecap="round"><path d="M0.5,-5.2C1.0,-7.2 2.3,-8.35 3.9,-8.25C5.8,-8.1 6.9,-5.5 7.4,-1.8" stroke-width="1.15"/><path d="M7.4,-1.8C7.5,0.2 6.6,2.0 5.8,3.6" stroke-width="0.95"/><path d="M10.6,-8.5C10.0,-5.5 8.3,-1.0 6.3,2.6" stroke-width="0.6"/></g>
<path d="M374.10,97.65H385.90M374.10,100.65H385.90" stroke="#000" stroke-width="0.6" fill="none"/>
<text x="386.95" y="104.05" font-size="17.90" textLength="32.78" lengthAdjust="spacingAndGlyphs">1.25</text>
<g transform="translate(362.10,122.15)" fill="none" stroke="#000" stroke-linecap="round"><path d="M0.5,-5.2C1.0,-7.2 2.3,-8.35 3.9,-8.25C5.8,-8.1 6.9,-5.5 7.4,-1.8" stroke-width="1.15"/><path d="M7.4,-1.8C7.5,0.2 6.6,2.0 5.8,3.6" stroke-width="0.95"/><path d="M10.6,-8.5C10.0,-5.5 8.3,-1.0 6.3,2.6" stroke-width="0.6"/></g>
<path d="M374.10,115.75H385.90M374.10,118.75H385.90" stroke="#000" stroke-width="0.6" fill="none"/>
<text x="386.90" y="122.15" font-size="17.90" textLength="24.15" lengthAdjust="spacingAndGlyphs">1.5</text>
<text x="222.47" y="357.80" font-size="21.00" font-style="italic" textLength="10.85" lengthAdjust="spacingAndGlyphs">r</text>
<text x="239.50" y="357.80" font-size="19.50" font-weight="bold" textLength="31.51" lengthAdjust="spacingAndGlyphs" stroke-width="0.28">kpc</text>
<path d="M235.30,343.10H239.30V344.40H237.50V361.80H239.30V363.10H235.30ZM275.60,343.10H271.60V344.40H273.40V361.80H271.60V363.10H275.60Z" fill="#000" stroke="none"/>
<g transform="translate(17.3,0) rotate(-90)">
<text x="-225.84" y="-0.30" font-size="25.00" font-style="italic" textLength="12.53" lengthAdjust="spacingAndGlyphs">ρ</text>
<text x="-212.97" y="3.60" font-size="21.00" font-style="italic" textLength="9.52" lengthAdjust="spacingAndGlyphs">χ</text>
<text x="-187.27" y="0.00" font-size="19.30" font-weight="bold" textLength="64.11" lengthAdjust="spacingAndGlyphs" stroke-width="0.28">GeVcm</text>
<text x="-122.73" y="-7.00" font-size="14.20" font-weight="bold" textLength="8.95" lengthAdjust="spacingAndGlyphs">−</text>
<text x="-113.37" y="-6.90" font-size="14.20" font-weight="bold" textLength="7.59" lengthAdjust="spacingAndGlyphs">3</text>
<path d="M-192.30,-15.30H-188.00V-14.00H-190.10V3.40H-188.00V4.70H-192.30ZM-101.20,-15.30H-105.20V-14.00H-103.40V3.40H-105.20V4.70H-101.20Z" fill="#000" stroke="none"/>
</g>
</g>
</svg>
</body></html>
